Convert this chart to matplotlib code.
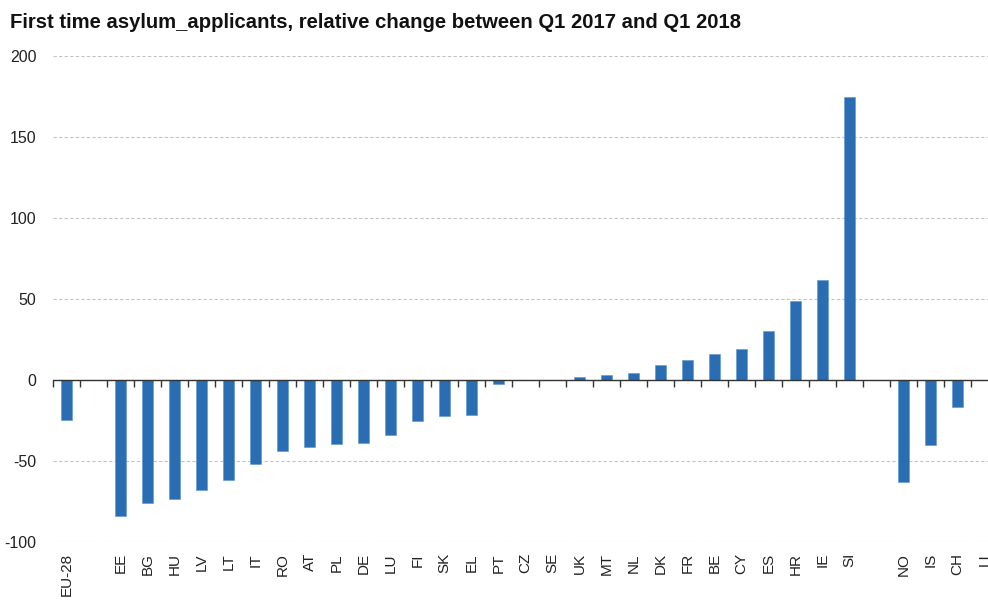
import numpy as np
import matplotlib
matplotlib.use("Agg")
import matplotlib.pyplot as plt

categories = ['EU-28', '', 'EE', 'BG', 'HU', 'LV', 'LT', 'IT', 'RO', 'AT', 'PL',
              'DE', 'LU', 'FI', 'SK', 'EL', 'PT', 'CZ', 'SE', 'UK', 'MT', 'NL',
              'DK', 'FR', 'BE', 'CY', 'ES', 'HR', 'IE', 'SI', '', 'NO', 'IS',
              'CH', 'LI']
values = [-24.7, np.nan, -83.7, -76.1, -73.6, -68.1, -61.7, -51.6, -43.6, -41.4,
          -39.7, -38.9, -34.2, -25.5, -22.4, -21.6, -2.5, 0, 0, 2.1, 2.9, 4.3,
          9.4, 12.1, 16.0, 19.2, 30.2, 48.5, 62.0, 174.5, np.nan, -62.8, -39.9,
          -16.9, np.nan]
yticks = [-100, -50, 0, 50, 100, 150, 200]

plt.rcParams['font.family'] = ['Liberation Sans', 'DejaVu Sans']
plt.rcParams['axes.unicode_minus'] = False

fig = plt.figure(figsize=(9.88, 6.01), dpi=100)
ax = fig.add_axes([53 / 988, 1 - 542 / 601, 1 - 53 / 988, (542 - 56) / 601])

x = np.arange(len(categories))
ax.bar(x, values, width=0.43, color='#2a6db2', edgecolor='#5b93cf',
       linewidth=0.4, zorder=3)

# zero line with tick marks between categories
ax.axhline(0, color='#333333', linewidth=1.0, zorder=4)
edges = np.arange(len(categories) + 1) - 0.5
ax.plot(edges, np.zeros_like(edges), linestyle='none', marker=3,
        markersize=5, markeredgewidth=1.0, color='#333333', zorder=4,
        clip_on=False)

ax.set_xlim(-0.5, 34.13)
ax.set_ylim(-100, 200)
ax.set_yticks(yticks)
ax.set_xticks(x)
ax.set_xticklabels(categories, rotation=90, fontsize=11, color='#222222')
ax.tick_params(axis='x', length=0, pad=8)
ax.tick_params(axis='y', length=0, pad=12, labelsize=11.5, labelcolor='#222222')

ax.yaxis.grid(True, color='#c4c4c4', linestyle=(0, (3, 2)), linewidth=0.8)
ax.set_axisbelow(True)
for s in ax.spines.values():
    s.set_visible(False)

fig.text(10 / 988, 1 - 23 / 601,
         "First time asylum_applicants, relative change between Q1 2017 and Q1 2018",
         fontsize=14.6, fontweight='bold', ha='left', va='center', color='#111111')

fig.savefig("out.png", dpi=100)
